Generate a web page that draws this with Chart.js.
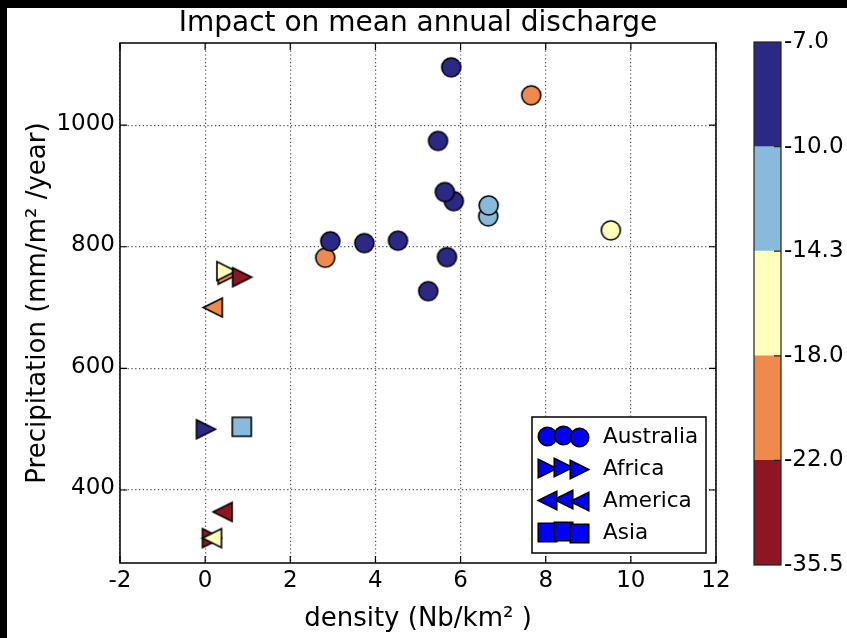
<!DOCTYPE html>
<html>
<head>
<meta charset="utf-8">
<script src="https://cdn.jsdelivr.net/npm/chart.js@4.4.1/dist/chart.umd.min.js"></script>
<style>
  html, body { margin: 0; padding: 0; background: #fff; }
  #wrap { position: relative; width: 847px; height: 638px; overflow: hidden; background: #fff; }
  #main { position: absolute; left: 0; top: 0; }
  #cbar { position: absolute; left: 740px; top: 0; }
  .band { position: absolute; background: #000; }
</style>
</head>
<body>
<div id="wrap">
  <canvas id="main" width="847" height="638"></canvas>
  <canvas id="cbar" width="107" height="638"></canvas>
  <div class="band" style="left:0;top:0;width:847px;height:8px"></div>
  <div class="band" style="left:0;top:0;width:7px;height:638px"></div>
</div>
<script>
// ---- data: density (Nb/km²), precipitation (mm/m²/year), impact on discharge (%) ----
const australiaDensity = [2.82, 2.94, 3.74, 4.53, 5.24, 5.68, 5.84, 5.63, 5.47, 5.78, 6.65, 6.66, 7.66, 9.53];
const australiaPrecip  = [782, 809, 806, 810, 727, 783, 875, 890, 974, 1095, 850, 868, 1049, 827];
const australiaImpact  = [-20, -8.5, -8.5, -8.5, -8.5, -8.5, -8.5, -8.5, -8.5, -8.5, -12, -12, -20, -16];

const africaDensity = [0.02, 0.53, 0.50, 0.87, 0.16];
const africaPrecip  = [500, 754, 760, 750, 321];
const africaImpact  = [-8.5, -20, -16, -28, -28];

const americaDensity = [0.18, 0.41, 0.16];
const americaPrecip  = [700, 364, 321];
const americaImpact  = [-20, -28, -16];

const asiaDensity = [0.86];
const asiaPrecip  = [504];
const asiaImpact  = [-12];

// colour classes of the impact scale (lower bounds → upper bounds)
const impactBounds = [-35.5, -22.0, -18.0, -14.3, -10.0, -7.0];
const impactColors = ['#8e1622', '#ef8a4c', '#feffbb', '#88badb', '#2b2985'];

const xTicks = [-2, 0, 2, 4, 6, 8, 10, 12];
const yTicks = [400, 600, 800, 1000];

const legendNames = ['Australia', 'Africa', 'America', 'Asia'];
const legendShapes = ['circle', 'right', 'left', 'square'];

const FONT = 'DejaVu Sans';
Chart.defaults.color = '#000';
Chart.defaults.font.family = FONT;

function colorFor(v) {
  for (let i = 0; i < impactColors.length; i++) {
    if (v >= impactBounds[i] && v <= impactBounds[i + 1]) return impactColors[i];
  }
  return impactColors[impactColors.length - 1];
}

// marker sprites: circle, square, right/left pointing triangles (width = height = size)
const spriteCache = {};
function marker(shape, fill, size) {
  size = size || 19;
  const key = shape + fill + size;
  if (spriteCache[key]) return spriteCache[key];
  const d = Math.ceil(size) + 4;
  const c = document.createElement('canvas');
  c.width = d; c.height = d;
  const g = c.getContext('2d');
  const m = d / 2, h = size / 2;
  g.beginPath();
  if (shape === 'circle') {
    g.arc(m, m, h, 0, Math.PI * 2);
  } else if (shape === 'square') {
    g.rect(m - h, m - h, size, size);
  } else if (shape === 'right') {
    g.moveTo(m + h, m); g.lineTo(m - h, m - h); g.lineTo(m - h, m + h); g.closePath();
  } else {
    g.moveTo(m - h, m); g.lineTo(m + h, m - h); g.lineTo(m + h, m + h); g.closePath();
  }
  g.fillStyle = fill;
  g.fill();
  g.lineWidth = 1.6;
  g.lineJoin = 'miter';
  g.strokeStyle = '#000';
  g.stroke();
  spriteCache[key] = c;
  return c;
}

function pts(xs, ys) { return xs.map((x, i) => ({ x: x, y: ys[i] })); }

// frame with inward tick marks on all four sides
const framePlugin = {
  id: 'frame',
  afterDraw(chart) {
    const { ctx, chartArea: a, scales } = chart;
    ctx.save();
    ctx.strokeStyle = '#000';
    ctx.lineWidth = 1.5;
    ctx.strokeRect(a.left, a.top, a.right - a.left, a.bottom - a.top);
    ctx.lineWidth = 1.2;
    ctx.beginPath();
    const tl = 7;
    xTicks.forEach(v => {
      const px = scales.x.getPixelForValue(v);
      ctx.moveTo(px, a.bottom); ctx.lineTo(px, a.bottom - tl);
      ctx.moveTo(px, a.top); ctx.lineTo(px, a.top + tl);
    });
    yTicks.forEach(v => {
      const py = scales.y.getPixelForValue(v);
      ctx.moveTo(a.left, py); ctx.lineTo(a.left + tl, py);
      ctx.moveTo(a.right, py); ctx.lineTo(a.right - tl, py);
    });
    ctx.stroke();
    ctx.restore();
  }
};

// continent legend in the lower right corner of the axes, three sample markers per entry
const legendPlugin = {
  id: 'continentLegend',
  afterDraw(chart) {
    const { ctx, chartArea: a } = chart;
    const right = a.right - 10, bottom = a.bottom - 10;
    const left = right - 174, top = bottom - 136;
    ctx.save();
    ctx.fillStyle = '#fff';
    ctx.fillRect(left, top, right - left, bottom - top);
    ctx.strokeStyle = '#000';
    ctx.lineWidth = 1.5;
    ctx.strokeRect(left, top, right - left, bottom - top);
    const xs = [left + 15, left + 31, left + 47];
    const dy = [1.9, 0, 2.8];
    ctx.font = '21.5px ' + FONT;
    ctx.textBaseline = 'middle';
    ctx.fillStyle = '#000';
    legendNames.forEach((name, i) => {
      const cy = top + 20 + i * 32;
      const spr = marker(legendShapes[i], '#0000ff', 18.5);
      xs.forEach((x, k) => {
        ctx.drawImage(spr, Math.round(x - spr.width / 2), Math.round(cy - 2 + dy[k] - spr.height / 2));
      });
      ctx.fillStyle = '#000';
      ctx.fillText(name, left + 71, cy);
    });
    ctx.restore();
  }
};

new Chart(document.getElementById('main'), {
  type: 'scatter',
  data: {
    datasets: [
      { label: 'Australia', data: pts(australiaDensity, australiaPrecip), order: 3,
        pointStyle: c => marker('circle', colorFor(australiaImpact[c.dataIndex])), pointRadius: 9.5 },
      { label: 'Africa', data: pts(africaDensity, africaPrecip), order: 1,
        pointStyle: c => marker('right', colorFor(africaImpact[c.dataIndex])), pointRadius: 9.5 },
      { label: 'America', data: pts(americaDensity, americaPrecip), order: 0,
        pointStyle: c => marker('left', colorFor(americaImpact[c.dataIndex])), pointRadius: 9.5 },
      { label: 'Asia', data: pts(asiaDensity, asiaPrecip), order: 2,
        pointStyle: c => marker('square', colorFor(asiaImpact[c.dataIndex])), pointRadius: 9.5 }
    ]
  },
  options: {
    responsive: false,
    animation: false,
    events: [],
    clip: false,
    layout: { padding: { left: 0, top: 0, right: 131, bottom: 0 } },
    plugins: {
      legend: { display: false },
      tooltip: { enabled: false },
      title: {
        display: true, fullSize: false,
        text: 'Impact on mean annual discharge',
        color: '#000',
        font: { family: FONT, size: 28, weight: 'normal', lineHeight: 1.2 },
        padding: { top: 6.5, bottom: 2.9 }
      }
    },
    scales: {
      x: {
        type: 'linear', min: -2, max: 12, z: 1,
        afterBuildTicks: s => { s.ticks = xTicks.map(v => ({ value: v })); },
        afterFit: s => { s.height = 75; },
        ticks: { font: { size: 23 }, color: '#000', padding: 4.2, maxRotation: 0, autoSkip: false,
                 callback: v => String(v) },
        grid: { color: 'rgba(0,0,0,0.7)', lineWidth: 1.2, drawTicks: false },
        border: { display: false, dash: [1.2, 2.6] },
        title: { display: true, text: 'density (Nb/km² )', color: '#000',
                 font: { size: 26, lineHeight: 1.2 }, padding: { top: 0, bottom: 3.4 } }
      },
      y: {
        type: 'linear', min: 280, max: 1135, z: 1,
        afterBuildTicks: s => { s.ticks = yTicks.map(v => ({ value: v })); },
        afterFit: s => { s.width = 120; },
        ticks: { font: { size: 23 }, color: '#000', padding: 5, labelOffset: -1.5, autoSkip: false,
                 callback: v => String(v) },
        grid: { color: 'rgba(0,0,0,0.7)', lineWidth: 1.2, drawTicks: false },
        border: { display: false, dash: [1.2, 2.6] },
        title: { display: true, text: 'Precipitation (mm/m² /year)', color: '#000',
                 font: { size: 26, lineHeight: 1.2 }, padding: { top: 22.4, bottom: 0 } }
      }
    }
  },
  plugins: [framePlugin, legendPlugin]
});

// ---- colour bar: one stacked column, one block per impact class ----
const cbOutline = {
  id: 'cbOutline',
  afterDraw(chart) {
    const { ctx, chartArea: a, scales } = chart;
    ctx.save();
    ctx.strokeStyle = '#222';
    ctx.lineWidth = 1.2;
    ctx.strokeRect(a.left, a.top, a.right - a.left, a.bottom - a.top);
    ctx.beginPath();
    for (let i = 1; i < impactBounds.length - 1; i++) {
      const py = scales.y.getPixelForValue(i);
      ctx.moveTo(a.right, py); ctx.lineTo(a.right - 7, py);
    }
    ctx.stroke();
    ctx.restore();
  }
};

new Chart(document.getElementById('cbar'), {
  type: 'bar',
  data: {
    labels: [''],
    datasets: impactColors.map((col, i) => ({
      label: impactBounds[i] + ' to ' + impactBounds[i + 1],
      data: [1],
      backgroundColor: col,
      borderWidth: 0,
      barPercentage: 1,
      categoryPercentage: 1
    }))
  },
  options: {
    responsive: false,
    animation: false,
    events: [],
    layout: { padding: { left: 14, top: 42, right: 0, bottom: 73 } },
    plugins: { legend: { display: false }, tooltip: { enabled: false } },
    scales: {
      x: { stacked: true, display: false },
      y: {
        stacked: true, position: 'right', min: 0, max: impactColors.length,
        afterBuildTicks: s => { s.ticks = impactBounds.map((b, i) => ({ value: i })); },
        afterFit: s => { s.width = 66; },
        ticks: { font: { size: 23 }, color: '#000', padding: 3, autoSkip: false,
                 callback: v => impactBounds[v].toFixed(1) },
        grid: { display: false, drawTicks: false },
        border: { display: false }
      }
    }
  },
  plugins: [cbOutline]
});
</script>
</body>
</html>
